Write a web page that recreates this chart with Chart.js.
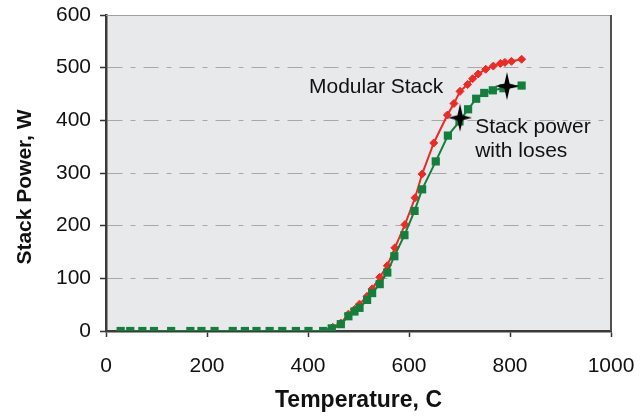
<!DOCTYPE html>
<html>
<head>
<meta charset="utf-8">
<script src="https://cdn.jsdelivr.net/npm/chart.js@4/dist/chart.umd.min.js"></script>
<style>
  html, body { margin: 0; padding: 0; background: #ffffff; }
  #wrap { width: 641px; height: 416px; position: relative; }
</style>
</head>
<body>
<div id="wrap"><canvas id="c" width="641" height="416"></canvas></div>
<script>
// ---- data ----
const modularTemp  = [29, 48, 72, 95, 129, 167, 189, 215, 251, 275, 298, 324, 349, 376, 401, 430, 449, 465, 480, 492, 502, 517, 527, 542, 557, 572, 592, 612, 626, 649, 676, 689, 701, 716, 726, 737, 752, 767, 781, 790, 803, 823];
const modularPower = [0, 0, 0, 0, 0, 0, 0, 0, 0, 0, 0, 0, 0, 0, 0, 0, 7, 15, 32, 41, 51, 66, 80, 102, 124, 158, 202, 253, 298, 357, 410, 432, 455, 468, 479, 488, 497, 503, 508, 510, 512, 516];

const lossTemp  = [29, 48, 72, 95, 129, 167, 189, 215, 251, 275, 298, 324, 349, 376, 401, 430, 447, 465, 480, 492, 502, 517, 527, 542, 557, 571, 591, 611, 626, 653, 677, 700, 717, 733, 749, 766, 787, 823];
const lossPower = [0, 0, 0, 0, 0, 0, 0, 0, 0, 0, 0, 0, 0, 0, 0, 0, 5, 13, 28, 37, 44, 59, 72, 89, 111, 142, 182, 228, 269, 322, 371, 398, 421, 441, 452, 457, 461, 466];

const starTemp  = [701, 794];
const starPower = [405, 465];

const xTicks = [0, 200, 400, 600, 800, 1000];
const yTicks = [0, 100, 200, 300, 400, 500, 600];

const xTitle = 'Temperature, C';
const yTitle = 'Stack Power, W';
const labelModular = 'Modular Stack';
const labelLoss = ['Stack power', 'with loses'];

// ---- helpers ----
const pts = (xs, ys) => xs.map((x, i) => ({ x: x, y: ys[i] }));

function makeStar() {
  const c = document.createElement('canvas');
  c.width = 26; c.height = 30;
  const g = c.getContext('2d');
  const cx = 13, cy = 15, rx = 12, ry = 14, ri = 2.6;
  g.fillStyle = '#000';
  g.beginPath();
  g.moveTo(cx, cy - ry);
  g.lineTo(cx + ri, cy - ri);
  g.lineTo(cx + rx, cy);
  g.lineTo(cx + ri, cy + ri);
  g.lineTo(cx, cy + ry);
  g.lineTo(cx - ri, cy + ri);
  g.lineTo(cx - rx, cy);
  g.lineTo(cx - ri, cy - ri);
  g.closePath();
  g.fill();
  return c;
}

const FONT = "'Liberation Sans', Arial, Helvetica, sans-serif";

const framePlugin = {
  id: 'frame',
  beforeDraw(chart) {
    const { ctx, chartArea: a } = chart;
    ctx.save();
    ctx.fillStyle = '#e8e9eb';
    ctx.fillRect(a.left, a.top, a.right - a.left, a.bottom - a.top);
    ctx.restore();
  },
  afterDatasetsDraw(chart) {
    const { ctx, chartArea: a, scales } = chart;
    ctx.save();
    // top border
    ctx.strokeStyle = '#a0a0a0';
    ctx.lineWidth = 1;
    ctx.beginPath();
    ctx.moveTo(a.left, a.top + 0.5);
    ctx.lineTo(a.right, a.top + 0.5);
    ctx.stroke();
    // right border
    ctx.strokeStyle = '#505050';
    ctx.lineWidth = 2;
    ctx.beginPath();
    ctx.moveTo(a.right, a.top);
    ctx.lineTo(a.right, a.bottom);
    ctx.stroke();
    // annotations
    ctx.fillStyle = '#111111';
    ctx.font = '21px ' + FONT;
    ctx.textAlign = 'left';
    ctx.textBaseline = 'alphabetic';
    const X = scales.x, Y = scales.y;
    ctx.fillText(labelModular, X.getPixelForValue(402), Y.getPixelForValue(452));
    ctx.fillText(labelLoss[0], X.getPixelForValue(731), Y.getPixelForValue(376));
    ctx.fillText(labelLoss[1], X.getPixelForValue(731), Y.getPixelForValue(331));
    // y axis title
    ctx.translate(25, 187);
    ctx.rotate(-Math.PI / 2);
    ctx.textAlign = 'center';
    ctx.textBaseline = 'middle';
    ctx.font = 'bold 21px ' + FONT;
    ctx.fillText(yTitle, 0, 0);
    ctx.restore();
  }
};

new Chart(document.getElementById('c'), {
  type: 'scatter',
  data: {
    datasets: [
      {
        label: 'Modular Stack',
        data: pts(modularTemp, modularPower),
        showLine: true,
        borderColor: '#ee2a24',
        backgroundColor: '#ee2a24',
        borderWidth: 2,
        pointStyle: 'rectRot',
        pointRadius: 4,
        pointBorderWidth: 1,
        pointHoverRadius: 4,
        order: 2
      },
      {
        label: 'Stack power with loses',
        data: pts(lossTemp, lossPower),
        showLine: true,
        borderColor: '#12803c',
        backgroundColor: '#12803c',
        borderWidth: 2,
        pointStyle: 'rect',
        pointRadius: 5.8,
        pointBorderWidth: 0,
        pointHoverRadius: 5.8,
        order: 1
      },
      {
        label: 'markers',
        data: pts(starTemp, starPower),
        showLine: false,
        pointStyle: makeStar(),
        pointRadius: 13,
        order: 0
      }
    ]
  },
  options: {
    responsive: false,
    animation: false,
    events: [],
    layout: { padding: { top: 15, right: 30, left: 0, bottom: 0 } },
    plugins: {
      legend: { display: false },
      tooltip: { enabled: false }
    },
    scales: {
      x: {
        type: 'linear',
        min: 0, max: 1000,
        afterBuildTicks: s => { s.ticks = xTicks.map(v => ({ value: v })); },
        afterFit: s => { s.height = 85; s.paddingLeft = 0; s.paddingRight = 0; },
        grid: { drawOnChartArea: false, drawTicks: true, tickLength: 6, tickColor: '#333333', tickWidth: 1.5 },
        border: { display: true, color: '#3a3a3a', width: 2.5 },
        ticks: { color: '#111111', font: { family: FONT, size: 21 }, padding: 17, maxRotation: 0, callback: v => String(v) },
        title: { display: true, text: xTitle, color: '#111111', font: { family: FONT, size: 23, weight: 'bold' }, padding: { top: 0, bottom: 2 } }
      },
      y: {
        type: 'linear',
        min: 0, max: 600,
        afterBuildTicks: s => { s.ticks = yTicks.map(v => ({ value: v })); },
        afterFit: s => { s.width = 106; s.paddingTop = 0; s.paddingBottom = 0; },
        grid: { drawOnChartArea: true, color: '#a8a8a8', lineWidth: 1, drawTicks: true, tickLength: 6, tickColor: '#333333', tickWidth: 1.5, tickBorderDash: [] },
        border: { display: true, color: '#3a3a3a', width: 2.5, dash: [15, 8, 5, 8] },
        ticks: { color: '#111111', font: { family: FONT, size: 21 }, padding: 9, callback: v => String(v) },
        title: { display: false }
      }
    }
  },
  plugins: [framePlugin]
});
</script>
</body>
</html>
